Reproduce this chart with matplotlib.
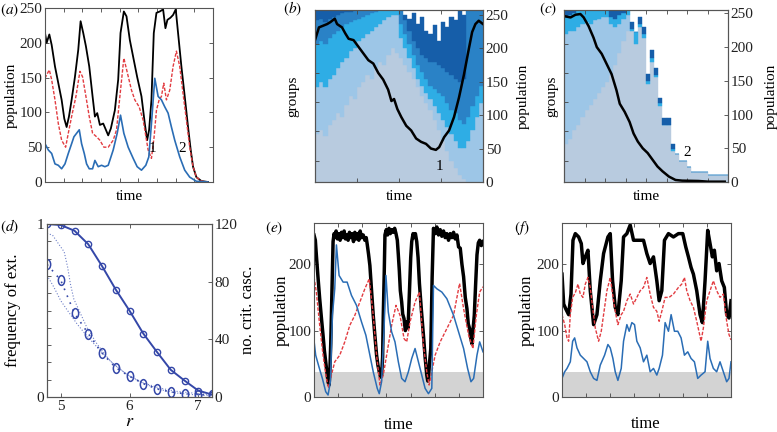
import numpy as np
import matplotlib
matplotlib.use("Agg")
import matplotlib.pyplot as plt
from matplotlib.path import Path

plt.rcParams['font.family'] = ['Liberation Serif', 'DejaVu Serif']
plt.rcParams['mathtext.fontset'] = 'stix'
plt.rcParams['font.size'] = 11

# ---------------- data ----------------
# (a) population time series (time in arbitrary units)
ta_black = [0, 5, 13, 20, 30, 40, 50, 58, 65, 72, 80, 90, 100, 107, 115, 123, 133, 143, 150, 157,
            165, 175, 183, 190, 198, 210, 220, 227, 237, 245, 255, 267, 277, 290, 300, 307, 313, 320, 327, 335,
            345, 355, 362, 368, 377, 385, 393, 400, 410, 420, 430, 438, 445, 455, 470, 490]
a_black = [214, 200, 212, 197, 166, 142, 118, 91, 79, 94, 118, 151, 190, 231, 214, 195, 166, 123, 94, 99,
           82, 84, 75, 67, 77, 103, 147, 214, 245, 238, 204, 175, 151, 123, 84, 60, 75, 118, 214, 243,
           245, 248, 221, 233, 236, 240, 248, 214, 166, 123, 79, 46, 22, 7, 1.4, 0]
ta_red = [0, 5, 13, 20, 30, 40, 50, 62, 70, 80, 93, 105, 113, 123, 133, 143, 155, 165, 177, 190,
          205, 215, 227, 237, 248, 260, 270, 283, 295, 310, 320, 328, 335, 343, 350, 357, 365, 375, 385, 395,
          405, 415, 425, 435, 445, 455, 470, 490]
a_red = [149, 154, 161, 147, 118, 84, 60, 50, 70, 94, 123, 159, 151, 123, 94, 70, 65, 60, 50, 50,
         60, 75, 132, 178, 156, 132, 118, 108, 89, 46, 34, 65, 103, 118, 123, 142, 118, 132, 166, 188,
         166, 127, 89, 50, 22, 7, 1.4, 0]
ta_blue = [0, 10, 20, 30, 40, 50, 60, 70, 80, 87, 95, 103, 110, 118, 125, 133, 143, 150, 160, 170,
           180, 190, 205, 217, 227, 237, 250, 265, 277, 290, 303, 312, 320, 330, 340, 350, 360, 370, 380, 390,
           405, 420, 435, 455, 490]
a_blue = [55, 46, 41, 26, 24, 19, 26, 41, 55, 65, 70, 75, 55, 41, 26, 19, 19, 31, 22, 24,
          22, 24, 46, 70, 96, 70, 50, 34, 22, 17, 24, 36, 84, 149, 123, 118, 108, 99, 79, 60,
          36, 17, 7, 1, 0]

# (b) stacked group composition (cumulative tops, fraction of groups) and population
b_layer1 = [0.28, 0.30, 0.27, 0.33, 0.36, 0.40, 0.38, 0.45, 0.50, 0.48, 0.55, 0.58, 0.62, 0.60, 0.66, 0.70, 0.68, 0.74, 0.78, 0.75,
            0.72, 0.68, 0.64, 0.60, 0.55, 0.50, 0.46, 0.42, 0.36, 0.30, 0.24, 0.18, 0.12, 0.08, 0.04, 0.02, 0.00, 0.00, 0.00, 0.00]
b_layer2 = [0.55, 0.58, 0.55, 0.60, 0.62, 0.66, 0.70, 0.72, 0.76, 0.78, 0.82, 0.84, 0.86, 0.88, 0.90, 0.92, 0.94, 0.96, 0.97, 0.97,
            0.84, 0.78, 0.72, 0.66, 0.60, 0.56, 0.52, 0.48, 0.44, 0.40, 0.36, 0.32, 0.28, 0.24, 0.20, 0.20, 0.24, 0.30, 0.38, 0.46]
b_layer3 = [0.80, 0.82, 0.80, 0.84, 0.86, 0.88, 0.90, 0.92, 0.93, 0.94, 0.95, 0.96, 0.97, 0.98, 0.99, 1.00, 1.00, 1.00, 1.00, 1.00,
            0.92, 0.86, 0.80, 0.74, 0.68, 0.64, 0.60, 0.56, 0.54, 0.52, 0.50, 0.46, 0.42, 0.40, 0.36, 0.34, 0.38, 0.44, 0.50, 0.56]
b_layer4 = [0.94, 0.95, 0.93, 0.95, 0.96, 0.97, 0.98, 0.99, 0.99, 1.00, 1.00, 1.00, 1.00, 1.00, 1.00, 1.00, 1.00, 1.00, 1.00, 1.00,
            1.00, 0.94, 0.88, 0.82, 0.78, 0.74, 0.72, 0.70, 0.70, 0.68, 0.66, 0.64, 0.62, 0.60, 0.58, 0.60, 1.00, 1.00, 1.00, 1.00]
b_total = [1.00, 1.00, 1.00, 1.00, 1.00, 1.00, 1.00, 1.00, 1.00, 1.00, 1.00, 1.00, 1.00, 1.00, 1.00, 1.00, 1.00, 1.00, 1.00, 1.00,
           1.00, 0.97, 0.95, 0.98, 0.92, 0.96, 0.88, 0.86, 0.91, 0.82, 0.93, 0.90, 0.96, 0.94, 1.00, 0.97, 1.00, 1.00, 1.00, 1.00]
tb = [0, 12, 27, 37, 47, 60, 67, 82, 92, 102, 117, 132, 147, 162, 177, 192, 207, 222, 232, 240,
      250, 262, 277, 292, 307, 322, 337, 352, 367, 377, 392, 407, 422, 437, 452, 467, 477, 487, 497, 510]
b_pop = [212, 231, 234, 236, 239, 244, 236, 231, 222, 214, 212, 202, 192, 182, 177, 163, 153, 138, 121, 124,
         109, 97, 84, 77, 65, 60, 57, 50, 48, 52, 67, 77, 97, 126, 160, 199, 224, 236, 241, 236]

# (c) stacked group composition and population
c_layer1 = [0.22, 0.25, 0.30, 0.33, 0.38, 0.42, 0.45, 0.48, 0.52, 0.55, 0.58, 0.62, 0.68, 0.75, 0.82, 0.88, 0.88, 0.80, 0.90, 0.84,
            0.57, 0.70, 0.61, 0.44, 0.33, 0.33, 0.18, 0.16, 0.12, 0.12, 0.09, 0.06, 0.06, 0.06, 0.06, 0.04, 0.04, 0.04, 0.04, 0.04]
c_layer2 = [0.86, 0.88, 0.88, 0.90, 0.92, 0.93, 0.92, 0.94, 0.95, 0.96, 0.96, 0.92, 0.90, 0.92, 0.95, 0.97, 0.88, 0.80, 0.90, 0.84,
            0.57, 0.70, 0.61, 0.44, 0.33, 0.33, 0.18, 0.16, 0.12, 0.12, 0.09, 0.06, 0.06, 0.06, 0.06, 0.04, 0.04, 0.04, 0.04, 0.04]
c_layer3 = [0.96, 0.97, 0.98, 1.00, 1.00, 1.00, 1.00, 1.00, 1.00, 1.00, 1.00, 0.96, 0.95, 0.97, 0.98, 1.00, 0.89, 0.87, 0.92, 0.86,
            0.59, 0.72, 0.62, 0.46, 0.33, 0.33, 0.19, 0.16, 0.12, 0.12, 0.09, 0.06, 0.06, 0.06, 0.06, 0.04, 0.04, 0.04, 0.04, 0.04]
c_total = [1.00, 1.00, 1.00, 1.00, 1.00, 1.00, 1.00, 1.00, 1.00, 1.00, 1.00, 1.00, 1.00, 1.00, 1.00, 1.00, 0.93, 0.87, 0.96, 0.90,
           0.63, 0.77, 0.66, 0.49, 0.37, 0.37, 0.22, 0.16, 0.12, 0.12, 0.09, 0.06, 0.06, 0.06, 0.06, 0.04, 0.04, 0.04, 0.04, 0.04]
tc = [0, 20, 35, 50, 60, 75, 90, 100, 115, 130, 145, 160, 170, 185, 200, 212, 225, 240, 255, 270,
      285, 300, 320, 340, 360, 410, 440, 490]
c_pop = [246, 244, 248, 249, 244, 231, 214, 200, 190, 175, 160, 136, 116, 104, 89, 72, 60, 50, 43, 33,
         23, 16, 8, 3, 2, 1.5, 0.5, 0.5]

# (d) frequency of extinction and critical cascades vs r
r_vals = [4.8, 5.0, 5.2, 5.4, 5.6, 5.8, 6.0, 6.2, 6.4, 6.6, 6.8, 7.0, 7.2]
freq_ext = [1.0, 0.994, 0.961, 0.883, 0.757, 0.621, 0.499, 0.367, 0.260, 0.157, 0.095, 0.037, 0.014]
n_casc = [92, 81, 58, 44, 30.5, 20.3, 14.4, 9.3, 5.6, 3.5, 2.3, 1.6, 1.4]
r_upper = [4.8, 4.88, 4.98, 5.05, 5.1, 5.14, 5.19, 5.29, 5.38, 5.53, 5.72, 5.96, 6.2, 6.44, 6.67, 6.91, 7.15]
casc_upper = [113.5, 112.3, 105.4, 100.7, 90.1, 78.5, 68, 57.6, 48.2, 36.6, 25, 15.6, 9.8, 6.2, 4, 2.8, 1.7]
r_lower = [4.8, 4.9, 5.0, 5.1, 5.24, 5.38, 5.58, 5.77, 6.0, 6.2, 6.44, 6.67, 6.91, 7.15]
casc_lower = [84.4, 76.2, 66.8, 59.9, 50.5, 42.4, 31.9, 22.6, 14.4, 9.4, 5.2, 2.8, 1.7, 1.0]

# (e) population time series
te_black = [0, 4, 7, 12, 17, 22, 27, 31, 35, 39, 42, 45, 47, 50, 52, 55, 57, 60, 62, 66,
            70, 74, 78, 82, 86, 90, 94, 98, 102, 106, 110, 114, 118, 122, 126, 130, 134, 138, 142, 147,
            152, 156, 159, 163, 167, 172, 177, 182, 187, 191, 195, 199, 202, 205, 207, 210, 212, 216, 220, 224,
            228, 232, 237, 241, 245, 249, 252, 255, 258, 262, 265, 269, 273, 277, 281, 285, 289, 292, 296, 299,
            303, 307, 311, 315, 321, 327, 332, 337, 340, 342, 345, 349, 353, 357, 362, 367, 372, 377, 382, 387,
            392, 397, 402, 407, 412, 417, 422, 427, 432, 437, 442, 447, 452, 457, 461, 465, 468, 472, 475, 479,
            483, 487, 491, 495, 500, 505]
e_black = [244, 236, 214, 180, 148, 120, 93, 70, 53, 35, 23, 18, 33, 80, 123, 190, 234, 246, 240, 250,
           238, 246, 236, 248, 240, 250, 238, 244, 236, 248, 240, 246, 234, 248, 238, 246, 236, 250, 240, 244,
           236, 240, 230, 215, 198, 160, 123, 92, 63, 48, 38, 30, 33, 60, 123, 190, 244, 252, 244, 254,
           246, 252, 248, 254, 246, 236, 214, 190, 160, 143, 125, 118, 100, 113, 104, 156, 210, 234, 246, 240,
           246, 234, 210, 171, 130, 93, 60, 33, 24, 28, 50, 73, 180, 254, 246, 256, 244, 252, 242, 250,
           240, 246, 236, 246, 240, 248, 238, 244, 226, 224, 200, 181, 150, 133, 110, 103, 90, 80, 100, 123,
           170, 214, 232, 236, 228, 234]
te_red = [0, 7, 17, 27, 37, 44, 52, 62, 77, 92, 107, 122, 137, 152, 165, 177, 187, 197, 207, 217,
          232, 245, 257, 269, 277, 287, 302, 315, 327, 337, 344, 352, 362, 377, 397, 417, 435, 447, 462, 475,
          485, 495, 505]
e_red = [181, 158, 108, 63, 28, 13, 33, 53, 63, 83, 108, 123, 143, 163, 178, 123, 63, 18, 33, 63,
         108, 138, 123, 88, 83, 113, 143, 158, 78, 38, 18, 38, 63, 83, 103, 123, 171, 133, 93, 73,
         123, 158, 166]
te_blue = [0, 5, 15, 25, 35, 42, 49, 55, 62, 67, 75, 87, 99, 112, 127, 142, 155, 167, 177, 189,
           195, 202, 209, 215, 222, 232, 242, 252, 262, 272, 282, 292, 302, 312, 322, 332, 342, 352, 357, 367,
           382, 397, 417, 432, 447, 459, 469, 477, 487, 495, 505]
e_blue = [85, 63, 45, 28, 8, 3, 23, 123, 163, 229, 183, 173, 173, 153, 138, 113, 93, 63, 38, 13,
          5, 23, 98, 183, 128, 98, 83, 53, 28, 23, 38, 58, 73, 53, 33, 13, 5, 13, 168, 163,
          158, 148, 123, 98, 73, 43, 23, 28, 63, 83, 68]

# (f) population time series
tf_black = [0, 5, 12, 20, 27, 33, 40, 50, 58, 63, 70, 78, 85, 95, 105, 115, 125, 138, 145, 152,
            160, 168, 178, 185, 195, 205, 215, 230, 245, 255, 265, 275, 285, 292, 300, 308, 320, 335, 350, 363,
            372, 380, 388, 395, 405, 415, 422, 430, 438, 445, 452, 458, 465, 472, 480, 488, 495, 502, 508]
f_black = [185, 140, 132, 124, 155, 236, 246, 241, 231, 201, 211, 221, 160, 109, 124, 175, 216, 241, 246, 175,
           135, 124, 175, 241, 246, 259, 236, 236, 236, 216, 201, 211, 175, 145, 160, 236, 246, 241, 246, 246,
           226, 211, 195, 185, 160, 124, 112, 175, 251, 231, 211, 221, 190, 201, 175, 165, 124, 119, 145]
tf_red = [0, 8, 15, 20, 25, 32, 40, 48, 55, 63, 70, 78, 85, 92, 100, 110, 118, 125, 135, 145,
          152, 160, 168, 178, 185, 195, 205, 215, 225, 235, 245, 255, 265, 275, 285, 292, 300, 310, 322, 335,
          350, 360, 368, 375, 385, 395, 405, 418, 425, 435, 445, 455, 465, 475, 485, 495, 502, 508]
f_red = [124, 109, 89, 84, 124, 150, 157, 170, 155, 150, 170, 180, 165, 135, 104, 84, 99, 124, 160, 180,
         155, 129, 109, 124, 129, 145, 155, 140, 150, 160, 165, 180, 155, 135, 129, 114, 129, 150, 150, 155,
         165, 170, 180, 160, 145, 135, 114, 84, 104, 145, 160, 175, 160, 150, 155, 114, 94, 86]
tf_blue = [0, 8, 15, 25, 32, 38, 45, 55, 65, 75, 85, 95, 105, 115, 128, 138, 145, 153, 160, 168,
           178, 185, 195, 202, 210, 218, 225, 235, 245, 255, 265, 275, 285, 292, 302, 310, 320, 328, 338, 348,
           358, 368, 378, 388, 398, 408, 418, 430, 438, 445, 455, 465, 475, 485, 495, 502, 508]
f_blue = [28, 38, 43, 53, 84, 89, 74, 63, 58, 53, 38, 28, 25, 48, 63, 79, 74, 58, 38, 25,
          43, 84, 109, 99, 112, 109, 84, 74, 53, 63, 38, 43, 33, 43, 63, 112, 99, 124, 99, 99,
          89, 63, 68, 58, 53, 28, 33, 38, 84, 58, 43, 38, 53, 38, 23, 28, 53]

band_top = 38

# ---------------- styling ----------------
RED = '#e23c41'
BLUE = '#2a6db5'
NAVY = '#3447a8'
BAND = '#d3d3d3'
SHADES = ['#b8cbdf', '#9dc6e7', '#2eade5', '#2a82c6', '#165ea9']

W, H = 777, 432
fig = plt.figure(figsize=(7.77, 4.32), dpi=100)


def box(l, t, r, b):
    return [l / W, 1 - b / H, (r - l) / W, (b - t) / H]


def label(x, y, s, rot=0, size=11):
    fig.text(x / W, 1 - y / H, s, rotation=rot, ha='center', va='center', fontsize=size)


def style(ax):
    for s in ax.spines.values():
        s.set_color('#555555')
        s.set_linewidth(0.8)
    ax.tick_params(direction='in', length=3, width=0.6, color='#444444',
                   labelcolor='#222222', labelsize=11, top=True, right=True, pad=2)


def stack(ax, tops, colors, width):
    x = np.arange(len(tops[0])) * width
    lower = np.zeros(len(tops[0]))
    for top, c in zip(tops, colors):
        top = np.array(top)
        ax.bar(x, top - lower, bottom=lower, width=width, align='edge',
               color=c, edgecolor=c, linewidth=0.3)
        lower = top


# ---- (a)
ax = fig.add_axes(box(45, 8, 213, 182))
ax.plot(ta_black, a_black, color='black', lw=1.3)
ax.plot(ta_red, a_red, color=RED, lw=1.0, dashes=(2.5, 1.2))
ax.plot(ta_blue, a_blue, color=BLUE, lw=1.2)
ax.text(323, 48, '1', ha='center', va='center', fontsize=11)
ax.text(413, 48, '2', ha='center', va='center', fontsize=11)
ax.set_xlim(0, 505)
ax.set_ylim(0, 250)
ax.set_xticks(np.linspace(0, 505, 10))
ax.set_xticklabels([])
ax.set_yticks([0, 50, 100, 150, 200, 250])
style(ax)
label(11, 95, 'population', 90)
label(129, 196, 'time')
label(10, 10, r'$(\mathit{a})$')

# ---- (b)
ax = fig.add_axes(box(315, 10, 483, 182))
stack(ax, [b_layer1, b_layer2, b_layer3, b_layer4, b_total], SHADES, 510 / 40)
ax.set_xlim(0, 510)
ax.set_ylim(0, 1)
ax.set_xticks(np.linspace(0, 510, 5))
ax.set_xticklabels([])
ax.set_yticks([0.125, 0.295, 0.465, 0.635, 0.805])
ax.set_yticklabels([])
style(ax)
ax.tick_params(right=False)
ax2 = ax.twinx()
ax2.plot(tb, b_pop, color='black', lw=1.8)
ax2.text(377, 23, '1', ha='center', va='center', fontsize=11)
ax2.set_ylim(0, 257)
ax2.set_yticks([0, 50, 100, 150, 200, 250])
style(ax2)
ax2.tick_params(left=False, top=False)
label(293, 96, 'groups', 90)
label(523, 96, 'population', 90)
label(399, 196, 'time')
label(293, 9, r'$(\mathit{b})$')

# ---- (c)
ax = fig.add_axes(box(564, 10, 728, 182))
stack(ax, [c_layer1, c_layer2, c_layer3, c_total], [SHADES[0], SHADES[1], SHADES[2], SHADES[4]], 500 / 40)
ax.set_xlim(0, 500)
ax.set_ylim(0, 1)
ax.set_xticks(np.linspace(0, 500, 9))
ax.set_xticklabels([])
ax.set_yticks([0.125, 0.295, 0.465, 0.635, 0.805])
ax.set_yticklabels([])
style(ax)
ax.tick_params(right=False)
ax2 = ax.twinx()
ax2.plot(tc, c_pop, color='black', lw=1.8)
ax2.text(377, 43, '2', ha='center', va='center', fontsize=11)
ax2.set_ylim(0, 255)
ax2.set_yticks([0, 50, 100, 150, 200, 250])
style(ax2)
ax2.tick_params(left=False, top=False)
label(552, 96, 'groups', 90)
label(771, 96, 'population', 90)
label(646, 196, 'time')
label(548, 9, r'$(\mathit{c})$')

# ---- (d)
ellipse = Path(Path.unit_circle().vertices * [0.65, 1.0], Path.unit_circle().codes)
ax = fig.add_axes(box(47, 224, 212, 397))
ax.plot(r_vals, freq_ext, color=NAVY, lw=1.4, marker='o', ms=4.5, mfc='none', mew=1.0)
ax.set_xlim(4.8, 7.2)
ax.set_ylim(0, 1)
ax.set_xticks([5, 6, 7])
ax.set_yticks(np.round(np.arange(0, 1.01, 0.1), 1))
ax.set_yticklabels(['0', '', '', '', '', '', '', '', '', '', '1'])
style(ax)
ax.tick_params(right=False)
ax2 = ax.twinx()
ax2.plot(r_upper, casc_upper, color='#6f80c8', lw=0.8, ls=':')
ax2.plot(r_lower, casc_lower, color='#6f80c8', lw=0.8, ls=':')
ax2.plot(r_vals, n_casc, color=NAVY, lw=1.2, ls=(0, (1, 3.5)), marker=ellipse, ms=7, mfc='none', mew=1.1)
ax2.set_ylim(0, 120)
ax2.set_yticks([0, 40, 80, 120])
style(ax2)
ax2.tick_params(left=False, top=False)
label(13, 310, 'frequency of ext.', 90, 12)
label(248, 310, 'no. crit. casc.', 90, 12)
label(130, 421, r'$r$', 0, 13)
label(10, 227, r'$(\mathit{d})$')

# ---- (e)
ax = fig.add_axes(box(314, 223, 483, 397))
ax.axhspan(0, band_top, color=BAND, lw=0, zorder=0)
ax.plot(te_black, e_black, color='black', lw=2.5)
ax.plot(te_red, e_red, color=RED, lw=1.0, dashes=(2.5, 1.2))
ax.plot(te_blue, e_blue, color=BLUE, lw=1.1)
ax.set_xlim(0, 505)
ax.set_ylim(0, 262)
ax.set_xticks(np.linspace(0, 505, 8))
ax.set_xticklabels([])
ax.set_yticks([0, 100, 200])
style(ax)
label(282, 310, 'population', 90, 12)
label(399, 425, 'time', 0, 12)
label(274, 228, r'$(\mathit{e})$')

# ---- (f)
ax = fig.add_axes(box(562, 223, 731, 397))
ax.axhspan(0, band_top, color=BAND, lw=0, zorder=0)
ax.plot(tf_black, f_black, color='black', lw=2.5)
ax.plot(tf_red, f_red, color=RED, lw=1.0, dashes=(2.5, 1.2))
ax.plot(tf_blue, f_blue, color=BLUE, lw=1.1)
ax.set_xlim(0, 508)
ax.set_ylim(0, 262)
ax.set_xticks(np.linspace(0, 508, 8))
ax.set_xticklabels([])
ax.set_yticks([0, 100, 200])
style(ax)
label(527, 310, 'population', 90, 12)
label(646, 424, 'time', 0, 12)
label(522, 228, r'$(\mathit{f})$')

fig.savefig('out.png', dpi=100, facecolor='white')
